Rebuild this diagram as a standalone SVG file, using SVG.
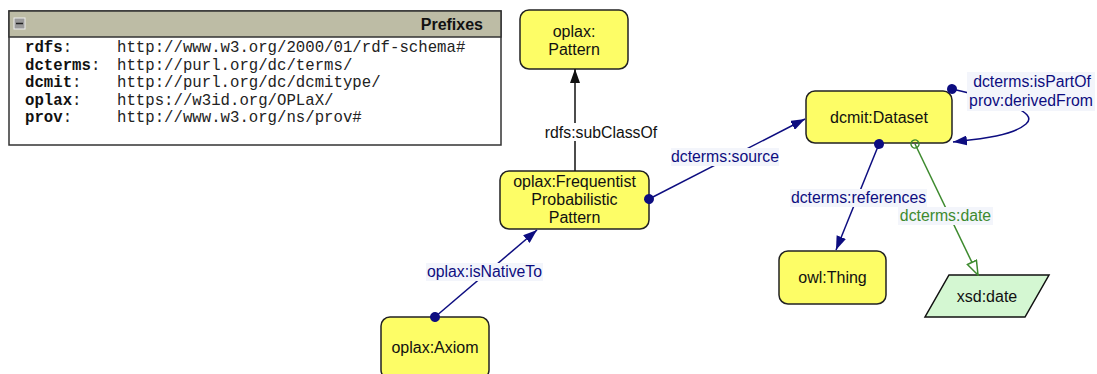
<svg xmlns="http://www.w3.org/2000/svg" width="1097" height="374" viewBox="0 0 1097 374">
<style>
  .node { fill: #fdfd66; stroke: #222; stroke-width: 1.5; }
  .lit { fill: #d4f7d2; stroke: #111; stroke-width: 1.5; }
  .t { font-family: "Liberation Sans", Arial, sans-serif; font-size: 16px; fill: #111; text-anchor: middle; }
  .lb { font-family: "Liberation Sans", Arial, sans-serif; font-size: 15.8px; text-anchor: middle; }
  .blue { fill: #0d0d80; }
  .green { fill: #3d8a2e; }
  .black { fill: #111; }
  .lbg { fill: #f3f5fb; }
  .eB { stroke: #0d0d80; stroke-width: 1.5; fill: none; }
  .eG { stroke: #3d8a2e; stroke-width: 1.5; fill: none; }
  .eK { stroke: #111; stroke-width: 1.5; fill: none; }
  .mono { font-family: "Liberation Mono", "Courier New", monospace; font-size: 15.7px; fill: #222; }
  .mb { font-weight: bold; fill: #111; }
</style>
<defs>
  <marker id="arrB" viewBox="0 0 14 10" refX="14" refY="5" markerWidth="14" markerHeight="10" markerUnits="userSpaceOnUse" orient="auto">
    <path d="M0,0 L14,5 L0,10 z" fill="#0d0d80"/>
  </marker>
  <marker id="arrK" viewBox="0 0 14 10" refX="14" refY="5" markerWidth="14" markerHeight="10" markerUnits="userSpaceOnUse" orient="auto">
    <path d="M0,0 L14,5 L0,10 z" fill="#111"/>
  </marker>
  <marker id="arrG" viewBox="0 0 16 12" refX="15" refY="6" markerWidth="16" markerHeight="12" markerUnits="userSpaceOnUse" orient="auto">
    <path d="M1,1 L15,6 L1,11 z" fill="#ffffff" stroke="#3d8a2e" stroke-width="1.5"/>
  </marker>
  <marker id="dotB" viewBox="0 0 12 12" refX="6" refY="6" markerWidth="12" markerHeight="12" markerUnits="userSpaceOnUse" orient="auto">
    <circle cx="6" cy="6" r="5" fill="#0d0d80"/>
  </marker>
  <marker id="dotG" viewBox="0 0 12 12" refX="6" refY="6" markerWidth="12" markerHeight="12" markerUnits="userSpaceOnUse" orient="auto">
    <circle cx="6" cy="6" r="4" fill="none" stroke="#3d8a2e" stroke-width="1.5"/>
  </marker>
</defs>

<g id="prefixes">
  <rect x="9" y="11" width="492" height="134" fill="#ffffff" stroke="#333" stroke-width="1.5"/>
  <rect x="9" y="11" width="492" height="26" fill="#bdbca5" stroke="#333" stroke-width="1.5"/>
  <rect x="14" y="18" width="11" height="11" fill="#9a9a9a" stroke="#eeeeee" stroke-width="1"/>
  <line x1="16" y1="23.5" x2="23" y2="23.5" stroke="#222" stroke-width="1.5"/>
  <text x="483" y="30" font-family="Liberation Sans, Arial, sans-serif" font-size="16px" font-weight="bold" fill="#111" text-anchor="end">Prefixes</text>
  <text class="mono" x="25" y="52"><tspan class="mb">rdfs</tspan>:</text>
  <text class="mono" x="117" y="52">http://www.w3.org/2000/01/rdf-schema#</text>
  <text class="mono" x="25" y="69.5"><tspan class="mb">dcterms</tspan>:</text>
  <text class="mono" x="117" y="69.5">http://purl.org/dc/terms/</text>
  <text class="mono" x="25" y="87"><tspan class="mb">dcmit</tspan>:</text>
  <text class="mono" x="117" y="87">http://purl.org/dc/dcmitype/</text>
  <text class="mono" x="25" y="104.5"><tspan class="mb">oplax</tspan>:</text>
  <text class="mono" x="117" y="104.5">https://w3id.org/OPLaX/</text>
  <text class="mono" x="25" y="122"><tspan class="mb">prov</tspan>:</text>
  <text class="mono" x="117" y="122">http://www.w3.org/ns/prov#</text>
</g>

<g id="pattern">
  <rect class="node" x="520" y="10" width="108" height="59" rx="9"/>
  <text class="t" x="574" y="37">oplax:</text>
  <text class="t" x="574" y="55">Pattern</text>
</g>
<g id="fpp">
  <rect class="node" x="500" y="171" width="149" height="58" rx="9"/>
  <text class="t" x="574.5" y="187">oplax:Frequentist</text>
  <text class="t" x="574.5" y="205">Probabilistic</text>
  <text class="t" x="574.5" y="223">Pattern</text>
</g>
<g id="dataset">
  <rect class="node" x="806" y="91" width="146" height="52" rx="9"/>
  <text class="t" x="879" y="123">dcmit:Dataset</text>
</g>
<g id="thing">
  <rect class="node" x="779" y="251" width="107" height="53" rx="9"/>
  <text class="t" x="832.5" y="283">owl:Thing</text>
</g>
<g id="xsddate">
  <polygon class="lit" points="949,275 1049,275 1025,317 925,317"/>
  <text class="t" x="987" y="302">xsd:date</text>
</g>
<g id="axiom">
  <rect class="node" x="381" y="317" width="108" height="62" rx="9"/>
  <text class="t" x="435" y="353">oplax:Axiom</text>
</g>

<g id="connectors">
  <line class="eK" x1="575" y1="171" x2="575" y2="69" marker-end="url(#arrK)"/>
  <line class="eB" x1="649" y1="199" x2="805" y2="119" marker-start="url(#dotB)" marker-end="url(#arrB)"/>
  <line class="eB" x1="435" y1="317" x2="537" y2="230" marker-start="url(#dotB)" marker-end="url(#arrB)"/>
  <line class="eB" x1="879" y1="144" x2="836" y2="250" marker-start="url(#dotB)" marker-end="url(#arrB)"/>
  <line class="eG" x1="915" y1="144" x2="978" y2="275" marker-start="url(#dotG)" marker-end="url(#arrG)"/>
  <path class="eB" d="M952,89 C1000,100 1040,112 1026,124 C1012,136 980,139 953,142" marker-start="url(#dotB)" marker-end="url(#arrB)"/>

  <rect x="543" y="123" width="116" height="18" fill="#ffffff"/>
  <text class="lb black" x="601" y="137.5">rdfs:subClassOf</text>
  <rect class="lbg" x="671" y="148" width="108" height="18"/>
  <text class="lb blue" x="725" y="162">dcterms:source</text>
  <rect class="lbg" x="426" y="263" width="117" height="18"/>
  <text class="lb blue" x="484.5" y="277">oplax:isNativeTo</text>
  <rect class="lbg" x="790" y="189" width="137" height="18"/>
  <text class="lb blue" x="858.5" y="203">dcterms:references</text>
  <rect class="lbg" x="898" y="207" width="95" height="18"/>
  <text class="lb green" x="945.5" y="221">dcterms:date</text>
  <rect class="lbg" x="967" y="72" width="128" height="39"/>
  <text class="lb blue" x="1032" y="87">dcterms:isPartOf</text>
  <text class="lb blue" x="1031" y="106">prov:derivedFrom</text>
</g>
</svg>
